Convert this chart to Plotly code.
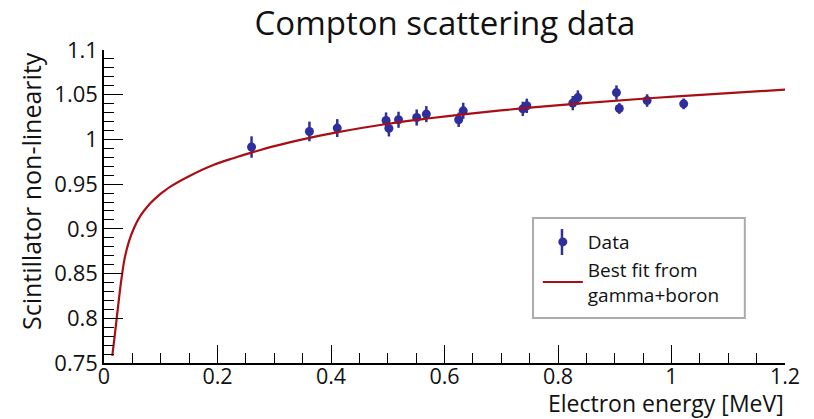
import plotly.graph_objects as go

# Data points (Compton scattering)
data_energy = [0.260, 0.362, 0.411, 0.497, 0.502, 0.519, 0.551, 0.568, 0.625, 0.633,
               0.738, 0.745, 0.826, 0.835, 0.903, 0.908, 0.957, 1.0215]
data_nonlin = [0.9915, 1.0089, 1.0127, 1.0212, 1.0123, 1.0220, 1.0245, 1.0283, 1.0220, 1.0320,
               1.0342, 1.0376, 1.0406, 1.0468, 1.0524, 1.0346, 1.0435, 1.0398]
data_err = [0.012, 0.011, 0.010, 0.009, 0.009, 0.009, 0.009, 0.009, 0.008, 0.009,
            0.008, 0.008, 0.008, 0.008, 0.008, 0.006, 0.007, 0.006]

# Best-fit curve
fit_energy = [0.0146, 0.0188, 0.0224, 0.0264, 0.0305, 0.0364, 0.044, 0.0529, 0.0646, 0.0793,
              0.094, 0.1045, 0.1163, 0.1515, 0.1926, 0.228, 0.260, 0.300, 0.350, 0.410,
              0.500, 0.570, 0.633, 0.740, 0.840, 1.010, 1.200]
fit_nonlin = [0.758, 0.780, 0.800, 0.822, 0.843, 0.867, 0.886, 0.901, 0.9150, 0.9270,
              0.9360, 0.9415, 0.9470, 0.9595, 0.9715, 0.9790, 0.9852, 0.9925, 1.0001, 1.0078,
              1.0175, 1.0234, 1.0281, 1.0349, 1.0403, 1.0482, 1.0557]

x_tickvals = [0, 0.2, 0.4, 0.6, 0.8, 1.0, 1.2]
x_ticktext = ["0", "0.2", "0.4", "0.6", "0.8", "1", "1.2"]
y_tickvals = [0.75, 0.8, 0.85, 0.9, 0.95, 1.0, 1.05, 1.1]
y_ticktext = ["0.75", "0.8", "0.85", "0.9", "0.95", "1", "1.05", "1.1"]

FONT = "Open Sans"
BLUE = "#2e2f9c"
RED = "#a80f14"

fig = go.Figure()
fig.add_trace(go.Scatter(
    x=data_energy, y=data_nonlin, mode="markers", name="Data",
    marker=dict(color=BLUE, size=9),
    error_y=dict(type="data", array=data_err, color=BLUE, thickness=2.5, width=0),
))
fig.add_trace(go.Scatter(
    x=fit_energy, y=fit_nonlin, mode="lines", name="Best fit from<br>gamma+boron",
    line=dict(color=RED, width=2.2, shape="spline", smoothing=1.0),
))

fig.update_layout(
    width=814, height=419,
    margin=dict(l=104, r=29, t=50, b=56),
    paper_bgcolor="white", plot_bgcolor="white",
    font=dict(family=FONT, color="#111111"),
    title=dict(text="Compton scattering data", x=445/814, xanchor="center",
               y=1 - 23/419, yanchor="middle", font=dict(size=33, family=FONT)),
    showlegend=True,
    legend=dict(x=0.637, y=0.447, xanchor="left", yanchor="top",
                borderwidth=0, bgcolor="rgba(0,0,0,0)",
                font=dict(size=19, family=FONT), itemwidth=40),
    shapes=[
        dict(type="rect", xref="paper", yref="paper",
             x0=0.630, x1=0.941, y0=0.144, y1=0.463,
             line=dict(color="#ababab", width=2), fillcolor="white", layer="below"),
        # vertical error-bar glyph of the "Data" legend symbol
        dict(type="line", xref="paper", yref="paper",
             x0=0.6725, x1=0.6725, y0=0.345, y1=0.428,
             line=dict(color=BLUE, width=2.5), layer="above"),
    ],
)
fig.update_xaxes(
    range=[0, 1.2], showgrid=False, zeroline=False, automargin=False,
    showline=True, linecolor="black", linewidth=1.5,
    ticks="inside", ticklen=18, tickwidth=1.2, tickcolor="black",
    tickvals=x_tickvals, ticktext=x_ticktext, ticklabelstandoff=-7,
    tickfont=dict(size=21.5, family=FONT),
    minor=dict(ticks="inside", ticklen=10, dtick=0.05, tickwidth=1.2, tickcolor="black"),
)
fig.update_yaxes(
    range=[0.75, 1.1], showgrid=False, zeroline=False, automargin=False,
    showline=True, linecolor="black", linewidth=1.5,
    ticks="inside", ticklen=19, tickwidth=1.2, tickcolor="black",
    tickvals=y_tickvals, ticktext=y_ticktext,
    tickfont=dict(size=22, family=FONT),
    minor=dict(ticks="inside", ticklen=10, dtick=0.01, tickwidth=1.2, tickcolor="black"),
)
fig.add_annotation(text="Electron energy [MeV]", xref="paper", yref="paper",
                   x=1, y=0, xanchor="right", yanchor="top", yshift=-23, borderpad=0,
                   showarrow=False, font=dict(size=23, family=FONT))
fig.add_annotation(text="Scintillator non-linearity", xref="paper", yref="paper",
                   x=0, y=1, xanchor="right", yanchor="top", xshift=-54,
                   textangle=-90, showarrow=False, font=dict(size=25, family=FONT))

fig.write_html("out.html", config={"displayModeBar": False},
               post_script="document.body.style.margin='0';")
